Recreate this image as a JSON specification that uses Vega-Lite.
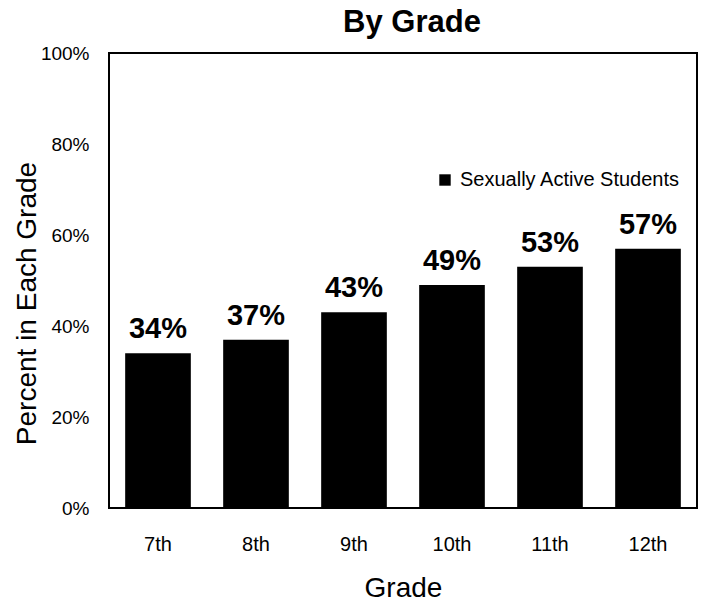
{
  "$schema": "https://vega.github.io/schema/vega-lite/v6.json",
  "width": 588,
  "height": 455,
  "autosize": {"type": "none"},
  "padding": {"left": 109, "top": 53, "right": 9, "bottom": 96},
  "background": "white",
  "title": {
    "text": "By Grade",
    "font": "Liberation Sans",
    "fontSize": 31,
    "fontWeight": "bold",
    "color": "black",
    "anchor": "middle",
    "offset": 5,
    "dx": 9
  },
  "config": {
    "font": "Liberation Sans",
    "view": {"stroke": "black", "strokeWidth": 2},
    "axis": {"grid": false, "domain": false, "ticks": false, "labelColor": "black", "titleColor": "black", "labelFont": "Liberation Sans", "titleFont": "Liberation Sans", "titleFontWeight": "normal"}
  },
  "data": {
    "values": [
      {"grade": "7th", "value": 0.34, "series": "Sexually Active Students"},
      {"grade": "8th", "value": 0.37, "series": "Sexually Active Students"},
      {"grade": "9th", "value": 0.43, "series": "Sexually Active Students"},
      {"grade": "10th", "value": 0.49, "series": "Sexually Active Students"},
      {"grade": "11th", "value": 0.53, "series": "Sexually Active Students"},
      {"grade": "12th", "value": 0.57, "series": "Sexually Active Students"}
    ]
  },
  "encoding": {
    "x": {
      "field": "grade",
      "type": "nominal",
      "sort": null,
      "scale": {"paddingInner": 0.33, "paddingOuter": 0.165},
      "axis": {"title": "Grade", "labelAngle": 0, "labelFontSize": 20, "labelPadding": 26, "titleFontSize": 28, "titlePadding": 20}
    },
    "y": {
      "field": "value",
      "type": "quantitative",
      "scale": {"domain": [0, 1]},
      "axis": {"title": "Percent in Each Grade", "format": ".0%", "values": [0, 0.2, 0.4, 0.6, 0.8, 1], "labelFontSize": 19, "labelPadding": 20, "titleFontSize": 28, "titleX": -68, "titleY": 250}
    }
  },
  "layer": [
    {
      "mark": {"type": "bar"},
      "encoding": {
        "color": {
          "field": "series",
          "type": "nominal",
          "scale": {"range": ["black"]},
          "legend": {
            "title": null,
            "orient": "none",
            "legendX": 326,
            "legendY": 117,
            "symbolType": "square",
            "symbolSize": 130,
            "symbolStrokeWidth": 0,
            "labelFontSize": 20,
            "labelLimit": 0,
            "labelColor": "black",
            "labelFont": "Liberation Sans",
            "labelOffset": 5
          }
        }
      }
    },
    {
      "mark": {"type": "text", "fontSize": 29, "fontWeight": "bold", "color": "black", "baseline": "alphabetic", "dy": -15},
      "encoding": {
        "text": {"field": "value", "type": "quantitative", "format": ".0%"}
      }
    }
  ]
}
